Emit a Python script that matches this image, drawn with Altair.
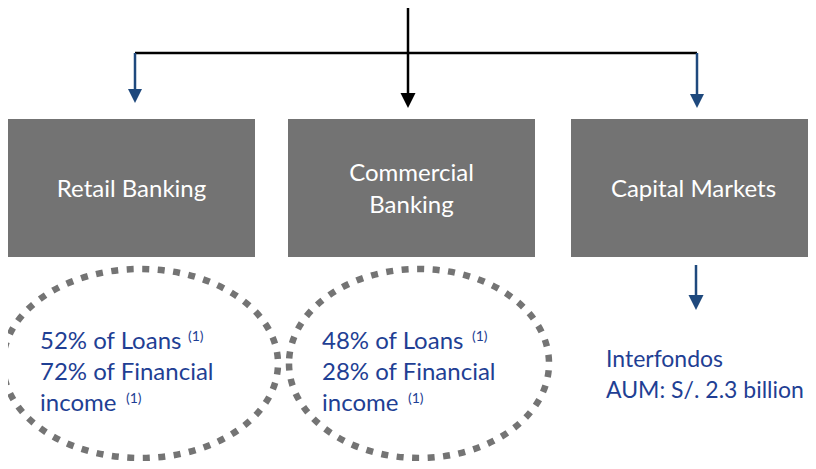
import altair as alt
import pandas as pd

# ---- content ----
segments = ["Retail Banking", "Commercial\nBanking", "Capital Markets"]
loan_share = [52, 48]            # % of loans (1)
fin_income_share = [72, 28]      # % of financial income (1)
fund_name = "Interfondos"
aum_billion = 2.3

# ---- layout (page pixel coordinates) ----
box_x0 = [8, 288, 571]
box_x1 = [255, 535, 816]
box_y0, box_y1 = 119, 257
box_label_y = [197, 181, 197]

ell_cx = [140.5, 419]
ell_cy = [363.5, 363.5]
ell_w = [275, 260]
ell_h = [189, 189]

BLUE_TXT = "#1F3F94"
BLUE_ARR = "#1F497D"
GRAY = "#737373"

W, H = 800, 453
xs = alt.Scale(domain=[8, 8 + W])
ys = alt.Scale(domain=[8, 8 + H], reverse=True)

def X(f="x"):
    return alt.X(f"{f}:Q", scale=xs, axis=None)

def Y(f="y"):
    return alt.Y(f"{f}:Q", scale=ys, axis=None)

# connector lines
lines = pd.DataFrame({
    "x":  [408, 135, 135, 697, 696],
    "y":  [4, 53, 53, 53, 265],
    "x2": [408, 697, 135, 697, 696],
    "y2": [96, 53, 92, 97, 298],
    "c":  ["black", "black", BLUE_ARR, BLUE_ARR, BLUE_ARR],
})
rules = alt.Chart(lines).mark_rule(strokeWidth=2.5).encode(
    x=X(), y=Y(), x2="x2:Q", y2="y2:Q", color=alt.Color("c:N", scale=None)
)

heads = pd.DataFrame({
    "x": [408, 135, 697, 696],
    "tip": [108, 103, 108, 310],
    "w": [15, 14, 14, 15],
    "c": ["black", BLUE_ARR, BLUE_ARR, BLUE_ARR],
})
heads["y"] = heads["tip"] - heads["w"] / 2
heads["s"] = heads["w"] ** 2
arrow = alt.Chart(heads).mark_point(
    shape="M -1 -1 L 1 -1 L 0 1 Z", filled=True, opacity=1, strokeWidth=0
).encode(
    x=X(), y=Y(), color=alt.Color("c:N", scale=None), size=alt.Size("s:Q", scale=None)
)

boxes_df = pd.DataFrame({
    "x": box_x0, "x2": box_x1, "y": [box_y0] * 3, "y2": [box_y1] * 3,
    "label": segments, "cx": [(a + b) / 2 for a, b in zip(box_x0, box_x1)],
    "ly": box_label_y,
})
boxes = alt.Chart(boxes_df).mark_rect(color=GRAY).encode(
    x=X(), x2="x2:Q", y=Y(), y2="y2:Q"
)
box_text = alt.Chart(boxes_df).mark_text(
    color="white", font="Lato", fontSize=24, lineBreak="\n", lineHeight=32,
    align="center", baseline="alphabetic"
).encode(x=X("cx"), y=Y("ly"), text="label:N")

# dotted ellipses
paths = []
for w, h in zip(ell_w, ell_h):
    r = h / w
    paths.append(f"M -1 0 A 1 {r:.4f} 0 1 0 1 0 A 1 {r:.4f} 0 1 0 -1 0 Z")
ell_df = pd.DataFrame({
    "id": ["retail", "commercial"], "x": ell_cx, "y": ell_cy,
    "s": [w ** 2 for w in ell_w],
})
ellipses = alt.Chart(ell_df).mark_point(
    filled=False, stroke="#747474", strokeWidth=6.5, strokeDash=[7, 8.5], opacity=1
).encode(
    x=X(), y=Y(),
    shape=alt.Shape("id:N", scale=alt.Scale(domain=["retail", "commercial"], range=paths), legend=None),
    size=alt.Size("s:Q", scale=None),
)

# blue texts
txt_rows = []
sup_rows = []
tx = [40, 322]
sup_loan_x = [188, 472]
sup_inc_x = [126, 408]
for i in range(2):
    txt_rows += [
        {"x": tx[i], "y": 349, "t": f"{loan_share[i]}% of Loans", "fs": 24},
        {"x": tx[i], "y": 380, "t": f"{fin_income_share[i]}% of Financial", "fs": 24},
        {"x": tx[i], "y": 411, "t": "income", "fs": 24},
    ]
    sup_rows += [
        {"x": sup_loan_x[i], "y": 341, "t": "(1)"},
        {"x": sup_inc_x[i], "y": 403, "t": "(1)"},
    ]
txt_rows += [
    {"x": 606, "y": 367, "t": fund_name, "fs": 23},
    {"x": 606, "y": 398, "t": f"AUM: S/. {aum_billion} billion", "fs": 23},
]
blue_text = alt.Chart(pd.DataFrame(txt_rows)).mark_text(
    color=BLUE_TXT, font="Lato", align="left", baseline="alphabetic"
).encode(x=X(), y=Y(), text="t:N", size=alt.Size("fs:Q", scale=None))
sup_text = alt.Chart(pd.DataFrame(sup_rows)).mark_text(
    color=BLUE_TXT, font="Lato", fontSize=14, align="left", baseline="alphabetic"
).encode(x=X(), y=Y(), text="t:N")

chart = alt.layer(
    rules, arrow, boxes, box_text, ellipses, blue_text, sup_text
).properties(
    width=W, height=H, padding=0, autosize=alt.AutoSizeParams(type="none")
).configure_view(strokeWidth=0)

chart.save("out.html", embed_options={"renderer": "svg", "actions": False})
